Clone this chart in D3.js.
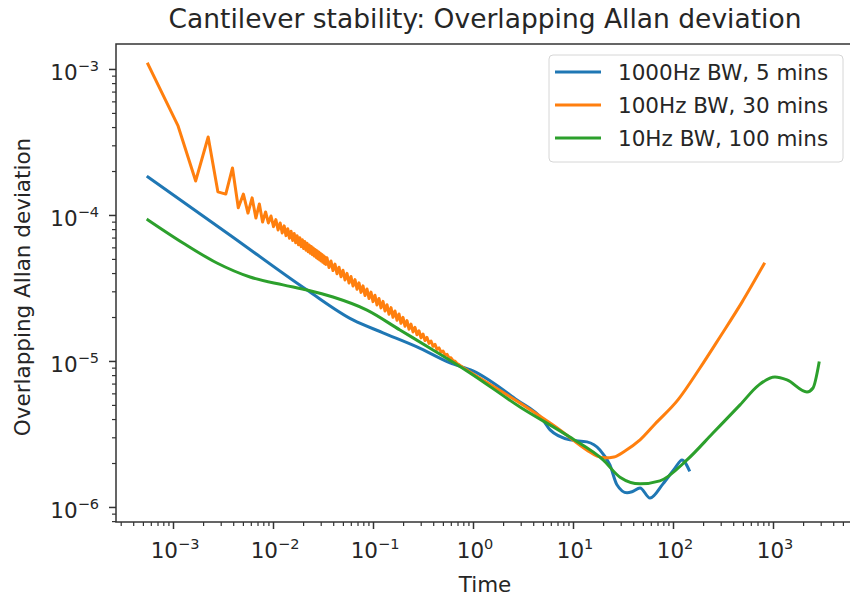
<!DOCTYPE html>
<html>
<head>
<meta charset="utf-8">
<script src="https://cdn.jsdelivr.net/npm/d3@7"></script>
<style>
  body { margin: 0; background: #fff; }
  svg { display: block; font-family: "DejaVu Sans", sans-serif; }
</style>
</head>
<body>
<svg id="chart" width="850" height="597"></svg>
<script>
// Averaging time (s) and overlapping Allan deviation for each acquisition
const blueTau  = [0.000562, 0.0037, 0.0219, 0.063, 0.126, 0.275, 0.589, 1.0, 2.75, 5.0, 5.9, 9.3, 13.8, 18.6, 23.4, 27.5, 34.7, 38.9, 46.8, 58.9, 79.4, 105, 123, 145];
const blueAdev = [1.82e-4, 7.3e-5, 3.06e-5, 1.91e-5, 1.56e-5, 1.25e-5, 9.7e-6, 8.55e-6, 5.4e-6, 3.95e-6, 3.37e-6, 2.88e-6, 2.79e-6, 2.46e-6, 1.94e-6, 1.42e-6, 1.25e-6, 1.27e-6, 1.35e-6, 1.15e-6, 1.44e-6, 1.85e-6, 2.1e-6, 1.79e-6];

const orangeTau = [
  0.000562, 0.001124, 0.001686, 0.002248, 0.00281, 0.003372, 0.003934, 0.004496, 0.005058, 0.00562,
  0.006182, 0.006744, 0.007306, 0.007868, 0.00843, 0.00899, 0.00955, 0.01012, 0.01068, 0.01124,
  0.0118, 0.01236, 0.01293, 0.01349, 0.01405, 0.01461, 0.01517, 0.01574, 0.0163, 0.01686,
  0.01742, 0.01798, 0.01855, 0.01911, 0.01967, 0.02023, 0.02079, 0.02136, 0.02192, 0.02248,
  0.02304, 0.0236, 0.02417, 0.02473, 0.02529, 0.02585, 0.02641, 0.02698, 0.02754, 0.0281,
  0.02866, 0.02922, 0.02979, 0.03035, 0.03091, 0.03147, 0.03203, 0.0326, 0.03316, 0.03372,
  0.03467, 0.03631, 0.03802, 0.03981, 0.04169, 0.04365, 0.04571, 0.04786, 0.05012, 0.05248,
  0.05495, 0.05754, 0.06026, 0.0631, 0.06607, 0.06918, 0.07244, 0.07586, 0.07943, 0.08318,
  0.0871, 0.0912, 0.0955, 0.1, 0.1047, 0.1096, 0.1148, 0.1202, 0.1259, 0.1318,
  0.138, 0.1445, 0.1514, 0.1585, 0.166, 0.1738, 0.182, 0.1905, 0.1995, 0.2089,
  0.2188, 0.2291, 0.2399, 0.2512, 0.263, 0.2754, 0.2884, 0.302, 0.3162, 0.3311,
  0.3467, 0.3631, 0.3802, 0.3981, 0.4169, 0.4365, 0.4571, 0.4786, 0.5012, 0.5248,
  0.5495, 0.5754, 0.6026, 0.631, 0.6607, 0.6918, 0.7244, 0.7586,
  0.933, 2.95, 7.41, 13.8, 17.4, 20.9, 25.7, 33.1, 46.8, 66.1,
  112, 186, 295, 490, 813
];
const orangeAdev = [
  1.08e-3, 4.07e-4, 1.71e-4, 3.42e-4, 1.44e-4, 1.39e-4, 2.10e-4, 1.12e-4, 1.39e-4, 1.03e-4,
  1.31e-4, 9.53e-5, 1.19e-4, 8.95e-5, 1.049e-4, 8.82e-5, 9.84e-5, 8.32e-5, 9.29e-5, 7.90e-5,
  8.82e-5, 7.53e-5, 8.42e-5, 7.22e-5, 8.05e-5, 6.93e-5, 7.74e-5, 6.68e-5, 7.46e-5, 6.46e-5,
  7.21e-5, 6.26e-5, 6.98e-5, 6.07e-5, 6.77e-5, 5.90e-5, 6.58e-5, 5.74e-5, 6.40e-5, 5.60e-5,
  6.23e-5, 5.47e-5, 6.09e-5, 5.35e-5, 5.94e-5, 5.23e-5, 5.81e-5, 5.12e-5, 5.69e-5, 5.01e-5,
  5.57e-5, 4.92e-5, 5.46e-5, 4.83e-5, 5.36e-5, 4.74e-5, 5.26e-5, 4.66e-5, 5.16e-5, 4.58e-5,
  5.09e-5, 4.37e-5, 4.84e-5, 4.16e-5, 4.61e-5, 3.96e-5, 4.39e-5, 3.77e-5, 4.18e-5, 3.59e-5,
  3.98e-5, 3.42e-5, 3.79e-5, 3.26e-5, 3.61e-5, 3.10e-5, 3.43e-5, 2.95e-5, 3.27e-5, 2.81e-5,
  3.11e-5, 2.68e-5, 2.96e-5, 2.55e-5, 2.82e-5, 2.42e-5, 2.68e-5, 2.31e-5, 2.56e-5, 2.20e-5,
  2.43e-5, 2.09e-5, 2.32e-5, 1.99e-5, 2.20e-5, 1.90e-5, 2.10e-5, 1.81e-5, 1.99e-5, 1.73e-5,
  1.89e-5, 1.65e-5, 1.79e-5, 1.58e-5, 1.70e-5, 1.51e-5, 1.61e-5, 1.44e-5, 1.53e-5, 1.38e-5,
  1.45e-5, 1.32e-5, 1.37e-5, 1.26e-5, 1.30e-5, 1.20e-5, 1.23e-5, 1.15e-5, 1.17e-5, 1.10e-5,
  1.11e-5, 1.05e-5, 1.05e-5, 1.005e-5, 9.97e-6, 9.61e-6, 9.45e-6, 9.19e-6,
  8.4e-6, 5.15e-6, 3.37e-6, 2.45e-6, 2.23e-6, 2.17e-6, 2.20e-6, 2.42e-6, 2.88e-6, 3.70e-6,
  5.41e-6, 8.95e-6, 1.46e-5, 2.53e-5, 4.61e-5
];

const greenTau  = [0.000562, 0.00126, 0.00275, 0.00589, 0.0126, 0.0219, 0.0398, 0.0871, 0.186, 0.398, 0.933, 2.95, 9.3, 20, 29.5, 46.8, 74, 138, 251, 468, 724, 1047, 1380, 2188, 2512, 2884];
const greenAdev = [9.25e-5, 6.43e-5, 4.69e-5, 3.76e-5, 3.32e-5, 3.06e-5, 2.74e-5, 2.23e-5, 1.63e-5, 1.19e-5, 8.28e-6, 4.84e-6, 3.01e-6, 2.1e-6, 1.6e-6, 1.44e-6, 1.51e-6, 2.1e-6, 3.21e-6, 5.0e-6, 6.86e-6, 7.76e-6, 7.41e-6, 6.13e-6, 6.53e-6, 9.68e-6];

const seriesNames = ["1000Hz BW, 5 mins", "100Hz BW, 30 mins", "10Hz BW, 100 mins"];
const seriesColors = ["#1f77b4", "#ff7f0e", "#2ca02c"];

const xTickExps = [-3, -2, -1, 0, 1, 2, 3];
const yTickExps = [-6, -5, -4, -3];

const titleText = "Cantilever stability: Overlapping Allan deviation";
const xLabel = "Time";
const yLabel = "Overlapping Allan deviation";

// Plot area
const plot = { left: 116, right: 854, top: 44, bottom: 522 };
const fontSize = 21.5;
const supSize = 14.5;

const svg = d3.select("#chart");

const x = d3.scaleLog().domain([Math.pow(10, -3.57), Math.pow(10, 3.81)]).range([plot.left, plot.right]);
const y = d3.scaleLog().domain([Math.pow(10, -6.103), Math.pow(10, -2.829)]).range([plot.bottom, plot.top]);

svg.append("defs").append("clipPath").attr("id", "plot-clip")
  .append("rect")
  .attr("x", plot.left).attr("y", plot.top)
  .attr("width", plot.right - plot.left).attr("height", plot.bottom - plot.top);

// Minor tick positions (2..9 in each decade inside the domain)
function minorTicks(scale) {
  const [d0, d1] = scale.domain();
  const out = [];
  for (let e = Math.floor(Math.log10(d0)); e <= Math.ceil(Math.log10(d1)); e++) {
    for (let m = 2; m <= 9; m++) {
      const v = m * Math.pow(10, e);
      if (v >= d0 && v <= d1) out.push(v);
    }
  }
  return out;
}

const tickColor = "#333";

// X axis ticks
const xMajor = xTickExps.map(e => Math.pow(10, e));
svg.append("g").attr("transform", `translate(0,${plot.bottom})`)
  .call(d3.axisBottom(x).tickValues(xMajor).tickSize(7).tickFormat(""))
  .call(g => g.select(".domain").remove())
  .call(g => g.selectAll("line").attr("stroke", tickColor).attr("stroke-width", 1.5));
svg.append("g").attr("transform", `translate(0,${plot.bottom})`)
  .call(d3.axisBottom(x).tickValues(minorTicks(x)).tickSize(4).tickFormat(""))
  .call(g => g.select(".domain").remove())
  .call(g => g.selectAll("line").attr("stroke", tickColor).attr("stroke-width", 1.2));

// Y axis ticks
const yMajor = yTickExps.map(e => Math.pow(10, e));
svg.append("g").attr("transform", `translate(${plot.left},0)`)
  .call(d3.axisLeft(y).tickValues(yMajor).tickSize(7).tickFormat(""))
  .call(g => g.select(".domain").remove())
  .call(g => g.selectAll("line").attr("stroke", tickColor).attr("stroke-width", 1.5));
svg.append("g").attr("transform", `translate(${plot.left},0)`)
  .call(d3.axisLeft(y).tickValues(minorTicks(y)).tickSize(4).tickFormat(""))
  .call(g => g.select(".domain").remove())
  .call(g => g.selectAll("line").attr("stroke", tickColor).attr("stroke-width", 1.2));

// Power-of-ten labels
function powerLabel(sel, e) {
  sel.append("tspan").text("10");
  sel.append("tspan").attr("font-size", supSize).attr("dy", -9)
    .text(e < 0 ? "\u2212" + (-e) : String(e));
}

xTickExps.forEach(e => {
  svg.append("text")
    .attr("x", x(Math.pow(10, e)) + 2)
    .attr("y", 558)
    .attr("text-anchor", "middle")
    .attr("font-size", fontSize)
    .attr("fill", "#262626")
    .call(powerLabel, e);
});

yTickExps.forEach(e => {
  svg.append("text")
    .attr("x", 99)
    .attr("y", y(Math.pow(10, e)) + 11)
    .attr("text-anchor", "end")
    .attr("font-size", fontSize)
    .attr("fill", "#262626")
    .call(powerLabel, e);
});

// Series: the orange trace is drawn point to point up to its last short-tau sample,
// then as a smooth curve through the long-tau samples.
const orangeSmoothFrom = orangeTau.findIndex(t => t > 0.8) - 1;
const pieces = [
  { tau: blueTau, adev: blueAdev, curve: d3.curveMonotoneX, color: seriesColors[0] },
  { tau: orangeTau.slice(0, orangeSmoothFrom + 1), adev: orangeAdev.slice(0, orangeSmoothFrom + 1), curve: d3.curveLinear, color: seriesColors[1] },
  { tau: orangeTau.slice(orangeSmoothFrom), adev: orangeAdev.slice(orangeSmoothFrom), curve: d3.curveMonotoneX, color: seriesColors[1] },
  { tau: greenTau, adev: greenAdev, curve: d3.curveMonotoneX, color: seriesColors[2] }
];

const linesG = svg.append("g").attr("clip-path", "url(#plot-clip)");
pieces.forEach(s => {
  const pts = s.tau.map((t, k) => [t, s.adev[k]]);
  linesG.append("path")
    .attr("d", d3.line().x(d => x(d[0])).y(d => y(d[1])).curve(s.curve)(pts))
    .attr("fill", "none")
    .attr("stroke", s.color)
    .attr("stroke-width", 3)
    .attr("stroke-linejoin", "round")
    .attr("stroke-linecap", "square");
});

// Frame
svg.append("rect")
  .attr("x", plot.left).attr("y", plot.top)
  .attr("width", plot.right - plot.left).attr("height", plot.bottom - plot.top)
  .attr("fill", "none").attr("stroke", "#333").attr("stroke-width", 1.5);

// Title and axis labels
svg.append("text")
  .attr("x", (plot.left + plot.right) / 2).attr("y", 28)
  .attr("text-anchor", "middle").attr("font-size", 26.5).attr("fill", "#262626")
  .text(titleText);

svg.append("text")
  .attr("x", (plot.left + plot.right) / 2).attr("y", 592)
  .attr("text-anchor", "middle").attr("font-size", fontSize).attr("fill", "#262626")
  .text(xLabel);

svg.append("text")
  .attr("transform", `translate(30,${(plot.top + plot.bottom) / 2 + 4}) rotate(-90)`)
  .attr("text-anchor", "middle").attr("font-size", fontSize).attr("fill", "#262626")
  .text(yLabel);

// Legend
const legend = svg.append("g");
legend.append("rect")
  .attr("x", 549).attr("y", 55).attr("width", 294).attr("height", 107)
  .attr("rx", 4).attr("fill", "#fff").attr("fill-opacity", 0.8)
  .attr("stroke", "#d6d6d6").attr("stroke-width", 1);
const rowY = [72, 105, 138];
seriesNames.forEach((name, i) => {
  legend.append("line")
    .attr("x1", 555).attr("x2", 601).attr("y1", rowY[i]).attr("y2", rowY[i])
    .attr("stroke", seriesColors[i]).attr("stroke-width", 3);
  legend.append("text")
    .attr("x", 618).attr("y", rowY[i] + 8)
    .attr("font-size", fontSize).attr("fill", "#262626")
    .text(name);
});
</script>
</body>
</html>
